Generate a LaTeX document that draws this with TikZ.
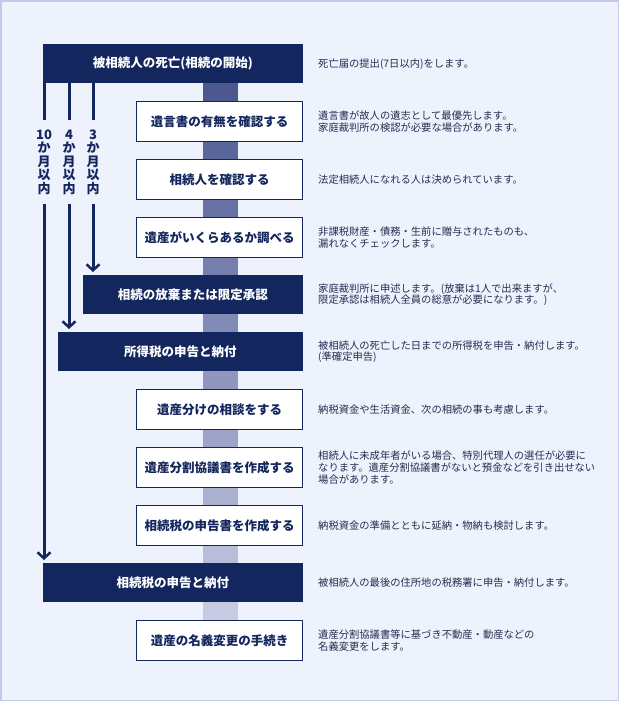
\documentclass[tikz,border=0pt]{standalone}
\usepackage{fontspec}
\setmainfont{Noto Sans CJK JP}
\usetikzlibrary{arrows.meta,positioning}

\definecolor{navy}{HTML}{14265E}
\definecolor{bardark}{HTML}{4D5891}
\definecolor{barlight}{HTML}{C6CBE3}
\definecolor{panel}{HTML}{EEF2FD}
\definecolor{panelline}{HTML}{C3C9EA}
\definecolor{notetext}{HTML}{262D4F}

\tikzset{
	darkbox/.style={fill=navy,text=white,anchor=north east,minimum height=39pt,inner sep=0pt,font=\bfseries\fontsize{12.5}{15}\selectfont},
	whitebox/.style={draw=navy,line width=1pt,fill=white,text=navy,anchor=north east,minimum width=166pt,minimum height=40pt,inner sep=0pt,font=\bfseries\fontsize{12.5}{15}\selectfont},
	note/.style={align=left,text=notetext,inner sep=0pt,font=\fontsize{10.3}{11.7}\selectfont},
	term/.style={align=center,text=navy,inner xsep=0pt,inner ysep=9pt,font=\bfseries\fontsize{13}{13.5}\selectfont},
	period/.style={navy,line width=3pt},
	periodarrow/.style={period,shorten >=3pt,-{Straight Barb[length=6pt,width=13pt,line width=2.5pt]}},
}

\begin{document}
\begin{tikzpicture}[x=1pt,y=-1pt]
	\useasboundingbox (0,0) rectangle (620,710);
	\draw[panelline,fill=panel,line width=1.5pt] (0.75,0.75) rectangle (618.5,700.5); % frame

	\coordinate (spine) at (220.5,0);

	% steps
	\node[darkbox,minimum width=260pt] (death) at (303,44) {被相続人の死亡(相続の開始)};
	\node[whitebox] (will) at (303,101) {遺言書の有無を確認する};
	\node[whitebox] (heirs) at (303,159) {相続人を確認する};
	\node[whitebox] (assets) at (303,217) {遺産がいくらあるか調べる};
	\node[darkbox,minimum width=220pt] (renounce) at (303,275) {相続の放棄または限定承認};
	\node[darkbox,minimum width=245pt] (incometax) at (303,332) {所得税の申告と納付};
	\node[whitebox] (consult) at (303,389) {遺産分けの相談をする};
	\node[whitebox] (agreement) at (303,447) {遺産分割協議書を作成する};
	\node[whitebox] (return) at (303,505) {相続税の申告書を作成する};
	\node[darkbox,minimum width=260pt] (taxpay) at (303,563) {相続税の申告と納付};
	\node[whitebox] (transfer) at (303,620) {遺産の名義変更の手続き};

	% spine between the steps
	\foreach \a/\b [count=\i] in {death/will,will/heirs,heirs/assets,assets/renounce,renounce/incometax,incometax/consult,consult/agreement,agreement/return,return/taxpay,taxpay/transfer}
	{
		\pgfmathtruncatemacro\pct{(\i-1)*100/9}
		\draw[line width=35pt,barlight!\pct!bardark] (\a.south -| spine) -- (\b.north -| spine);
	}

	% notes
	\node[note,right=15pt of death] (deathnote) {死亡届の提出(7日以内)をします。};
	\node[note,right=15pt of will] (willnote) {遺言書が故人の遺志として最優先します。\\家庭裁判所の検認が必要な場合があります。};
	\node[note,right=15pt of heirs] (heirsnote) {法定相続人になれる人は決められています。};
	\node[note,right=15pt of assets] (assetsnote) {非課税財産・債務・生前に贈与されたものも、\\漏れなくチェックします。};
	\node[note,right=15pt of renounce] (renouncenote) {家庭裁判所に申述します。(放棄は1人で出来ますが、\\限定承認は相続人全員の総意が必要になります。)};
	\node[note,right=15pt of incometax] (incometaxnote) {被相続人の死亡した日までの所得税を申告・納付します。\\(準確定申告)};
	\node[note,right=15pt of consult] (consultnote) {納税資金や生活資金、次の相続の事も考慮します。};
	\node[note,right=15pt of agreement] (agreementnote) {相続人に未成年者がいる場合、特別代理人の選任が必要に\\なります。遺産分割協議書がないと預金などを引き出せない\\場合があります。};
	\node[note,right=15pt of return] (returnnote) {納税資金の準備とともに延納・物納も検討します。};
	\node[note,right=15pt of taxpay] (taxpaynote) {被相続人の最後の住所地の税務署に申告・納付します。};
	\node[note,right=15pt of transfer] (transfernote) {遺産分割協議書等に基づき不動産・動産などの\\名義変更をします。};

	% deadlines
	\node[term] (months10) at (44,162) {10\\か\\月\\以\\内};
	\node[term] (months4) at (69,162) {4\\か\\月\\以\\内};
	\node[term] (months3) at (93,162) {3\\か\\月\\以\\内};

	\draw[period] (death.south -| months10) -- (months10.north);
	\draw[period] (death.south -| months4) -- (months4.north);
	\draw[period] (death.south -| months3) -- (months3.north);
	\draw[periodarrow] (months10.south) -- (taxpay.north -| months10);
	\draw[periodarrow] (months4.south) -- (incometax.north -| months4);
	\draw[periodarrow] (months3.south) -- (renounce.north -| months3);

\end{tikzpicture}
\end{document}
